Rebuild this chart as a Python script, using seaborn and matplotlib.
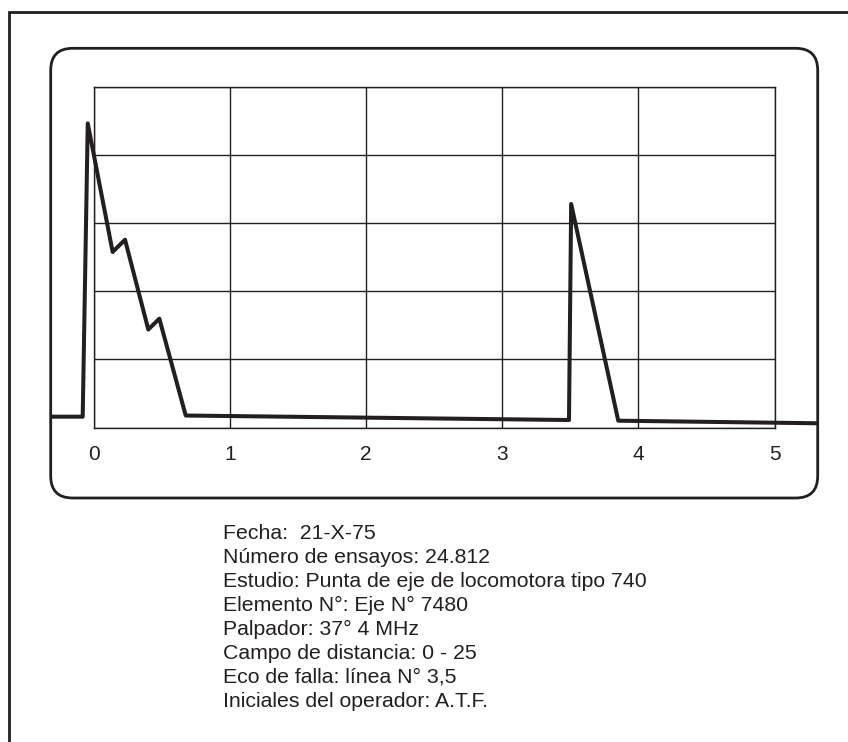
import matplotlib
matplotlib.use("Agg")
import matplotlib.pyplot as plt
import seaborn as sns
import pandas as pd
from matplotlib.patches import FancyBboxPatch
from matplotlib.lines import Line2D
from matplotlib.transforms import IdentityTransform

# ---- data ----
distance = [-0.318, -0.083, -0.046, 0.137, 0.228, 0.399, 0.480, 0.674, 3.490, 3.506, 3.852, 5.320]
amplitude = [0.159, 0.159, 4.47, 2.58, 2.76, 1.44, 1.60, 0.176, 0.110, 3.285, 0.100, 0.062]
x_ticks = [0, 1, 2, 3, 4, 5]
x_tick_labels = ["0", "1", "2", "3", "4", "5"]
y_ticks = [0, 1, 2, 3, 4, 5]
info_lines = [
    "Fecha:  21-X-75",
    "Número de ensayos: 24.812",
    "Estudio: Punta de eje de locomotora tipo 740",
    "Elemento N°: Eje N° 7480",
    "Palpador: 37° 4 MHz",
    "Campo de distancia: 0 - 25",
    "Eco de falla: línea N° 3,5",
    "Iniciales del operador: A.T.F.",
]

INK = "#231f20"
W, H, DPI = 848, 742, 100

sns.set_style("white")
plt.rcParams["font.family"] = ["Liberation Sans", "DejaVu Sans"]

fig = plt.figure(figsize=(W / DPI, H / DPI), dpi=DPI)
fig.patch.set_facecolor("white")

# grid area in pixels
gl, gr, gt, gb = 94, 774.5, 87.3, 427.5
ax = fig.add_axes([gl / W, (H - gb) / H, (gr - gl) / W, (gb - gt) / H])

df = pd.DataFrame({"distance": distance, "amplitude": amplitude})
sns.lineplot(data=df, x="distance", y="amplitude", sort=False, estimator=None,
             color=INK, linewidth=2.9, ax=ax)
for ln in ax.lines:
    ln.set_clip_on(False)
    ln.set_solid_joinstyle("round")
    ln.set_solid_capstyle("butt")
    ln.set_zorder(5)

ax.set_xlim(0, 5)
ax.set_ylim(0, 5)
ax.set_xticks(x_ticks)
ax.set_xticklabels(x_tick_labels)
ax.set_yticks(y_ticks)
ax.set_yticklabels([])
ax.set_xlabel("")
ax.set_ylabel("")
ax.grid(True, color=INK, linewidth=1.0)
ax.set_axisbelow(True)
for sp in ax.spines.values():
    sp.set_color(INK)
    sp.set_linewidth(1.0)
ax.tick_params(axis="both", length=0)
ax.tick_params(axis="x", pad=12.5, labelsize=15, labelcolor=INK)
ax.set_facecolor("none")

# rounded screen frame (pixel coordinates)
box_l, box_r, box_t, box_b = 50.7, 817.7, 48.3, 498
frame = FancyBboxPatch((box_l, H - box_b), box_r - box_l, box_b - box_t,
                       boxstyle="round,pad=0,rounding_size=22",
                       transform=IdentityTransform(), facecolor="none",
                       edgecolor=INK, linewidth=2.0)
fig.add_artist(frame)

# outer page border (left and top only)
outer = Line2D([8.5, 8.5, W], [0, H - 11.7, H - 11.7], transform=IdentityTransform(),
               color=INK, linewidth=2.0, solid_joinstyle="miter")
fig.add_artist(outer)

# info text block
first_baseline = 538.7
spacing = 24.0
for i, line in enumerate(info_lines):
    fig.text(223 / W, (H - (first_baseline + i * spacing)) / H, line,
             fontsize=15.3, color=INK, va="baseline", ha="left")

fig.savefig("out.png", dpi=DPI, facecolor="white")
